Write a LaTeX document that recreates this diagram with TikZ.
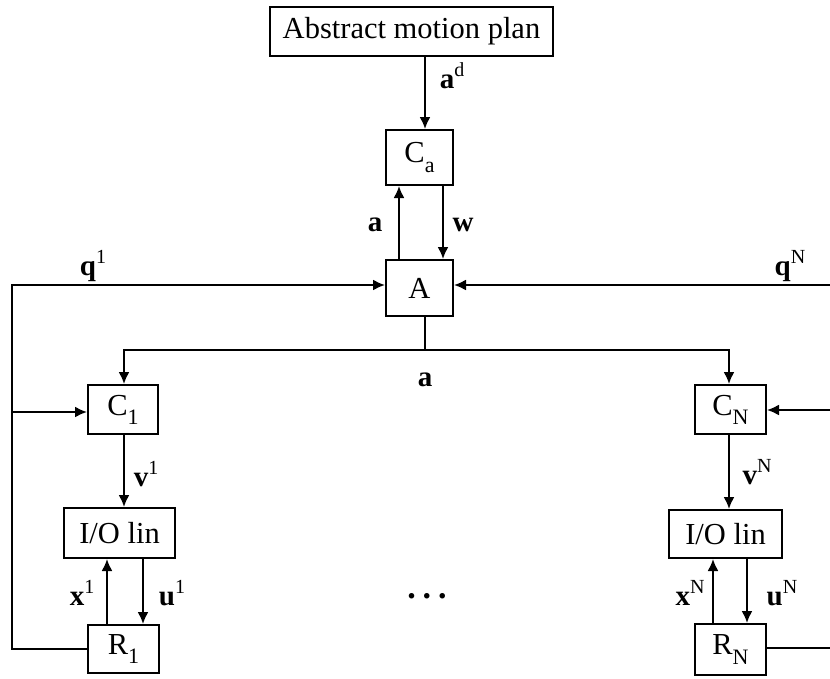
\documentclass[tikz,border=0pt]{standalone}
\usepackage{fontspec}
\setmainfont{Liberation Serif}
\usetikzlibrary{arrows.meta}
% bold signal name with a superscript index
\newcommand\sig[2]{\textbf{#1}\raisebox{0.42em}{\fontsize{20}{20}\selectfont #2}}
% block name with a subscript index
\newcommand\blk[2]{#1\raisebox{-0.3em}{\fontsize{22}{22}\selectfont #2}}
\begin{document}
\begin{tikzpicture}[x=1pt,y=-1pt,
  line width=2pt,
  >={Latex[length=12pt,width=11pt]},
  box/.style={draw,inner sep=0pt,font=\fontsize{30.5}{34}\selectfont},
  lbl/.style={inner sep=0pt,font=\fontsize{29}{32}\selectfont}]
\useasboundingbox (0,0) rectangle (830,678);

% blocks
\node[box,minimum width=283pt,minimum height=49pt] (plan) at (411.5,31) {Abstract motion plan};
\node[box,minimum width=67pt,minimum height=55pt] (Ca) at (419.5,157.5) {\blk{C}{a}};
\node[box,minimum width=67pt,minimum height=56pt] (A) at (419.5,288) {A};
\node[box,minimum width=70pt,minimum height=49pt] (C1) at (123,409.5) {\blk{C}{1}};
\node[box,minimum width=111pt,minimum height=50pt] (IO1) at (119.5,533) {I/O lin};
\node[box,minimum width=71pt,minimum height=48pt] (R1) at (123.5,649) {\blk{R}{1}};
\node[box,minimum width=71pt,minimum height=49pt] (CN) at (730.5,409.5) {\blk{C}{N}};
\node[box,minimum width=113pt,minimum height=48pt] (ION) at (725.5,534) {I/O lin};
\node[box,minimum width=71pt,minimum height=51pt] (RN) at (730.5,649.5) {\blk{R}{N}};

% routing points
\coordinate (xm) at (425,0);
\coordinate (xup) at (399,0);
\coordinate (xdn) at (443,0);
\coordinate (bus) at (425,350);
\coordinate (busL) at (124,350);
\coordinate (busR) at (729,350);
\coordinate (lq) at (12,285);
\coordinate (lc) at (12,412);
\coordinate (lr) at (12,649);
\coordinate (rq) at (830,285);
\coordinate (rc) at (830,410);
\coordinate (rr) at (830,648);

% supervisory loop
\draw[->] (plan.south -| xm) -- (Ca.north -| xm);
\draw[->] (A.north -| xup) -- (Ca.south -| xup);
\draw[->] (Ca.south -| xdn) -- (A.north -| xdn);

% broadcast of a
\draw (A.south -| xm) -- (bus);
\draw[->] (bus) -- (busL) -- (C1.north -| busL);
\draw[->] (bus) -- (busR) -- (CN.north -| busR);

% robot 1
\draw[->] (C1.south -| busL) -- (IO1.north -| busL);
\draw[->] (R1.north -| 107,0) -- (IO1.south -| 107,0);
\draw[->] (IO1.south -| 143,0) -- (R1.north -| 143,0);
\draw[->] (R1.west |- lr) -- (lr) -- (lq) -- (A.west |- lq);
\draw[->] (lc) -- (C1.west |- lc);

% robot N
\draw[->] (CN.south -| busR) -- (ION.north -| busR);
\draw[->] (RN.north -| 713,0) -- (ION.south -| 713,0);
\draw[->] (ION.south -| 747,0) -- (RN.north -| 747,0);
\draw (RN.east |- rr) -- (rr);
\draw[->] (rc) -- (CN.east |- rc);
\draw[->] (rq) -- (A.east |- rq);

% signal labels
\node[lbl] (lad) at (452,76) {\sig{a}{d}};
\node[lbl] (lau) at (375,225) {\textbf{a}};
\node[lbl] (lw) at (463,225) {\textbf{w}};
\node[lbl] (lq1) at (93,266) {\sig{q}{1}};
\node[lbl] (lqN) at (790,266) {\sig{q}{N}};
\node[lbl] (lab) at (425,380) {\textbf{a}};
\node[lbl] (lv1) at (146,474) {\sig{v}{1}};
\node[lbl] (lx1) at (82,593) {\sig{x}{1}};
\node[lbl] (lu1) at (172,593) {\sig{u}{1}};
\node[lbl] (lvN) at (757,472) {\sig{v}{N}};
\node[lbl] (lxN) at (690,593) {\sig{x}{N}};
\node[lbl] (luN) at (782,593) {\sig{u}{N}};
\node[lbl] (dots) at (427,596) {\fontsize{34}{34}\selectfont\bfseries .\hspace{7pt}.\hspace{7pt}.};
\end{tikzpicture}
\end{document}
